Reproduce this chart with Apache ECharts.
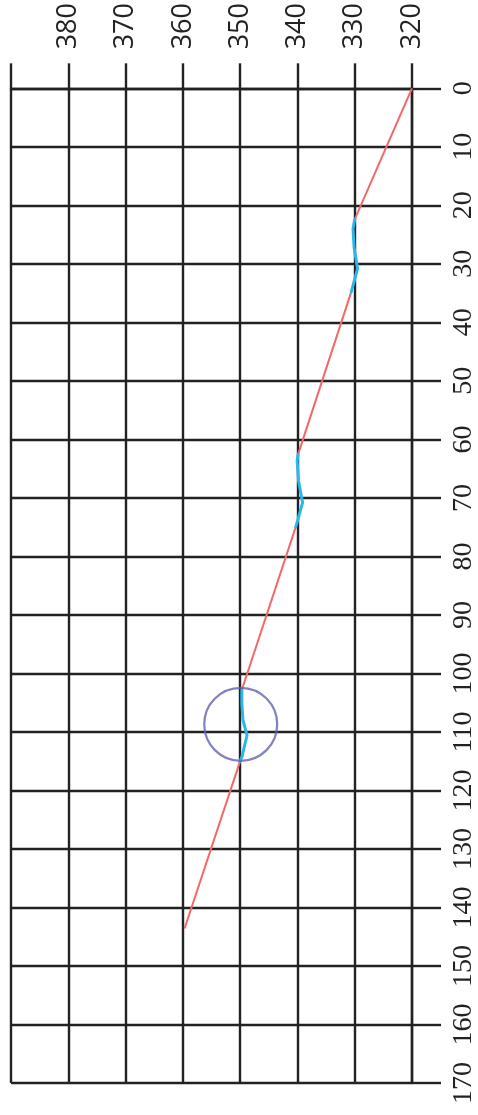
<!DOCTYPE html>
<html>
<head>
<meta charset="utf-8">
<script src="https://cdn.jsdelivr.net/npm/echarts@6/dist/echarts.min.js"></script>
<style>
html,body{margin:0;padding:0;background:#fff;}
#c{width:478px;height:1115px;}
</style>
</head>
<body>
<div id="c"></div>
<script>
// Value axis (horizontal, increasing leftwards) and distance axis (vertical, increasing downwards)
var valueTicks = [320, 330, 340, 350, 360, 370, 380];
var distTicks = [0, 10, 20, 30, 40, 50, 60, 70, 80, 90, 100, 110, 120, 130, 140, 150, 160, 170];

// Red straight segments: distances and values
var redSegDist = [[0, 22.4], [34.8, 62.6], [75, 102.8], [115, 143.6]];
var redSegVal  = [[320, 330], [330.6, 339.9], [340.3, 349.7], [350, 359.7]];

// Blue wiggles
var blue1Dist = [22.4, 24, 27.3, 30.8, 34.8];
var blue1Val  = [330, 330.3, 330.1, 329.5, 330.6];
var blue2Dist = [62.6, 63.7, 67.1, 70.8, 73.3, 75];
var blue2Val  = [339.9, 340.05, 339.8, 339.1, 339.8, 340.3];
var blue3Dist = [102.8, 105.2, 108, 110.6, 114.3, 115];
var blue3Val  = [349.7, 349.7, 349.5, 348.8, 349.7, 350];

// Highlight circle
var circleDist = [108.7];
var circleVal = [349.9];

function zip(vals, dists) { return vals.map(function (v, i) { return [v, dists[i]]; }); }

var series = [];
redSegDist.forEach(function (d, i) {
  series.push({
    type: 'line', data: zip(redSegVal[i], d), symbol: 'none', silent: true,
    lineStyle: { color: '#f26868', width: 2 }, z: 3
  });
});
[[blue1Val, blue1Dist], [blue2Val, blue2Dist], [blue3Val, blue3Dist]].forEach(function (b) {
  series.push({
    type: 'line', data: zip(b[0], b[1]), symbol: 'none', silent: true,
    lineStyle: { color: '#2bb8e8', width: 3, cap: 'round', join: 'round' }, z: 4
  });
});
series.push({
  type: 'scatter', data: zip(circleVal, circleDist), symbol: 'circle', symbolSize: 73, silent: true,
  itemStyle: { color: 'rgba(0,0,0,0)', borderColor: '#6262b4', borderWidth: 2.2 }, z: 5
});

var gridLine = { show: true, lineStyle: { color: '#222', width: 2.4 } };

var chart = echarts.init(document.getElementById('c'));
chart.setOption({
  animation: false,
  backgroundColor: '#fff',
  grid: { left: 11, right: 59, top: 87, bottom: 32 },
  xAxis: {
    type: 'value', position: 'top', inverse: true, min: 320, max: 390, interval: 10,
    axisLine: { show: true, lineStyle: { color: '#222', width: 2.4 } },
    axisTick: { show: true, length: 25, lineStyle: { color: '#222', width: 2.4 } },
    splitLine: gridLine,
    axisLabel: {
      rotate: 90, margin: 39, fontFamily: 'Open Sans', fontSize: 27, color: '#222',
      formatter: function (v) { return valueTicks.indexOf(v) >= 0 ? String(v) : ''; }
    }
  },
  yAxis: {
    type: 'value', position: 'right', inverse: true, min: 0, max: 170, interval: 10,
    axisLine: { show: true, lineStyle: { color: '#222', width: 2.4 } },
    axisTick: { show: true, length: 29, lineStyle: { color: '#222', width: 2.4 } },
    splitLine: gridLine,
    axisLabel: {
      rotate: 90, margin: 38, fontFamily: 'Liberation Serif', fontSize: 28, color: '#222',
      formatter: function (v) { return distTicks.indexOf(v) >= 0 ? String(v) : ''; }
    }
  },
  series: series
});
</script>
</body>
</html>
